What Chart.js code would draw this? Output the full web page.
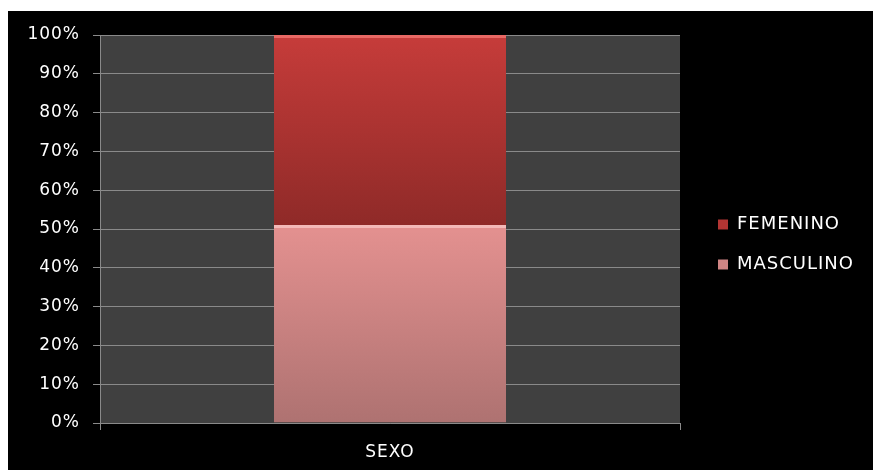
<!DOCTYPE html>
<html>
<head>
<meta charset="utf-8">
<script src="https://cdn.jsdelivr.net/npm/chart.js@4"></script>
<style>
    body { margin: 0; background: #ffffff; }
    #wrap { position: absolute; left: 8px; top: 11px; width: 865px; height: 459px; background: #000000; }
    canvas { display: block; }
</style>
</head>
<body>
<div id="wrap"><canvas id="barChart" width="865" height="459"></canvas></div>
<script>
const categories = ['SEXO'];
const masculino = [51];
const femenino = [49];
const yTicks = [0, 10, 20, 30, 40, 50, 60, 70, 80, 90, 100];

const fontName = "'DejaVu Sans', sans-serif";

function barGradient(top, bottom, from, to){
    return function(context){
        const chart = context.chart;
        if(!chart.chartArea || context.type !== 'data') return from;
        const y = chart.scales.y;
        const g = chart.ctx.createLinearGradient(0, y.getPixelForValue(top), 0, y.getPixelForValue(bottom));
        g.addColorStop(0, from);
        g.addColorStop(1, to);
        return g;
    };
}

const plotBackground = {
    id: 'plotBackground',
    beforeUpdate(chart){
        chart.ctx.letterSpacing = '1px';
    },
    beforeDraw(chart){
        const a = chart.chartArea;
        const ctx = chart.ctx;
        ctx.letterSpacing = '1px';
        ctx.save();
        ctx.fillStyle = '#404040';
        ctx.fillRect(a.left, a.top, a.right - a.left, a.bottom - a.top);
        ctx.restore();
    },
    beforeLayout(chart){
        const lg = chart.legend;
        if(lg && !lg._fixed){
            const fit = lg.fit;
            lg.fit = function(){
                fit.call(this);
                this.width = 177;
            };
            lg._fixed = true;
        }
    }
};

new Chart(document.getElementById('barChart'), {
    type: 'bar',
    data: {
        labels: categories,
        datasets: [
            {
                label: 'MASCULINO',
                data: masculino,
                backgroundColor: barGradient(masculino[0], 0, '#e49190', '#ae7271'),
                borderColor: '#f3b9b8',
                borderWidth: {top: 3, left: 0, right: 0, bottom: 0},
                borderSkipped: false
            },
            {
                label: 'FEMENINO',
                data: femenino,
                backgroundColor: barGradient(100, masculino[0], '#c63c3a', '#8f2a28'),
                borderColor: '#e86864',
                borderWidth: {top: 3, left: 0, right: 0, bottom: 0},
                borderSkipped: false
            }
        ]
    },
    options: {
        responsive: false,
        animation: false,
        devicePixelRatio: 1,
        barPercentage: 0.4,
        categoryPercentage: 1,
        layout: { padding: { top: 24, bottom: 16, left: 0, right: 0 } },
        plugins: {
            legend: {
                position: 'right',
                reverse: true,
                labels: {
                    color: '#ffffff',
                    boxWidth: 10,
                    boxHeight: 10,
                    padding: 22,
                    font: { family: fontName, size: 18 },
                    generateLabels(chart){
                        const solid = ['#b33533', '#d08584'];
                        return chart.data.datasets.map((ds, i) => ({
                            text: ds.label,
                            fillStyle: i === 1 ? solid[0] : solid[1],
                            strokeStyle: i === 1 ? solid[0] : solid[1],
                            lineWidth: 0,
                            fontColor: '#ffffff',
                            datasetIndex: i
                        }));
                    }
                }
            },
            tooltip: { enabled: false }
        },
        scales: {
            x: {
                stacked: true,
                grid: { display: true, drawOnChartArea: false, color: '#8a8a8a', tickLength: 7, offset: true },
                border: { display: true, color: '#8a8a8a' },
                ticks: { color: '#ffffff', padding: 12, font: { family: fontName, size: 17 } },
                afterFit(s){
                    s.height = 31;
                    // label sits below the box, so don't clip it
                    s._computeLabelArea = () => undefined;
                }
            },
            y: {
                stacked: true,
                min: 0,
                max: 100,
                afterBuildTicks(s){ s.ticks = yTicks.map(v => ({value: v})); },
                grid: { color: '#8a8a8a', tickLength: 7 },
                border: { display: true, color: '#8a8a8a' },
                ticks: {
                    color: '#ffffff',
                    padding: 13,
                    font: { family: fontName, size: 17 },
                    callback: v => v + '%'
                },
                afterFit(s){ s.width = 92; }
            },
            spacer: {
                type: 'linear',
                position: 'right',
                display: true,
                grid: { display: false },
                border: { display: false },
                ticks: { display: false },
                afterFit(s){ s.width = 16; }
            }
        }
    },
    plugins: [plotBackground]
});
</script>
</body>
</html>
